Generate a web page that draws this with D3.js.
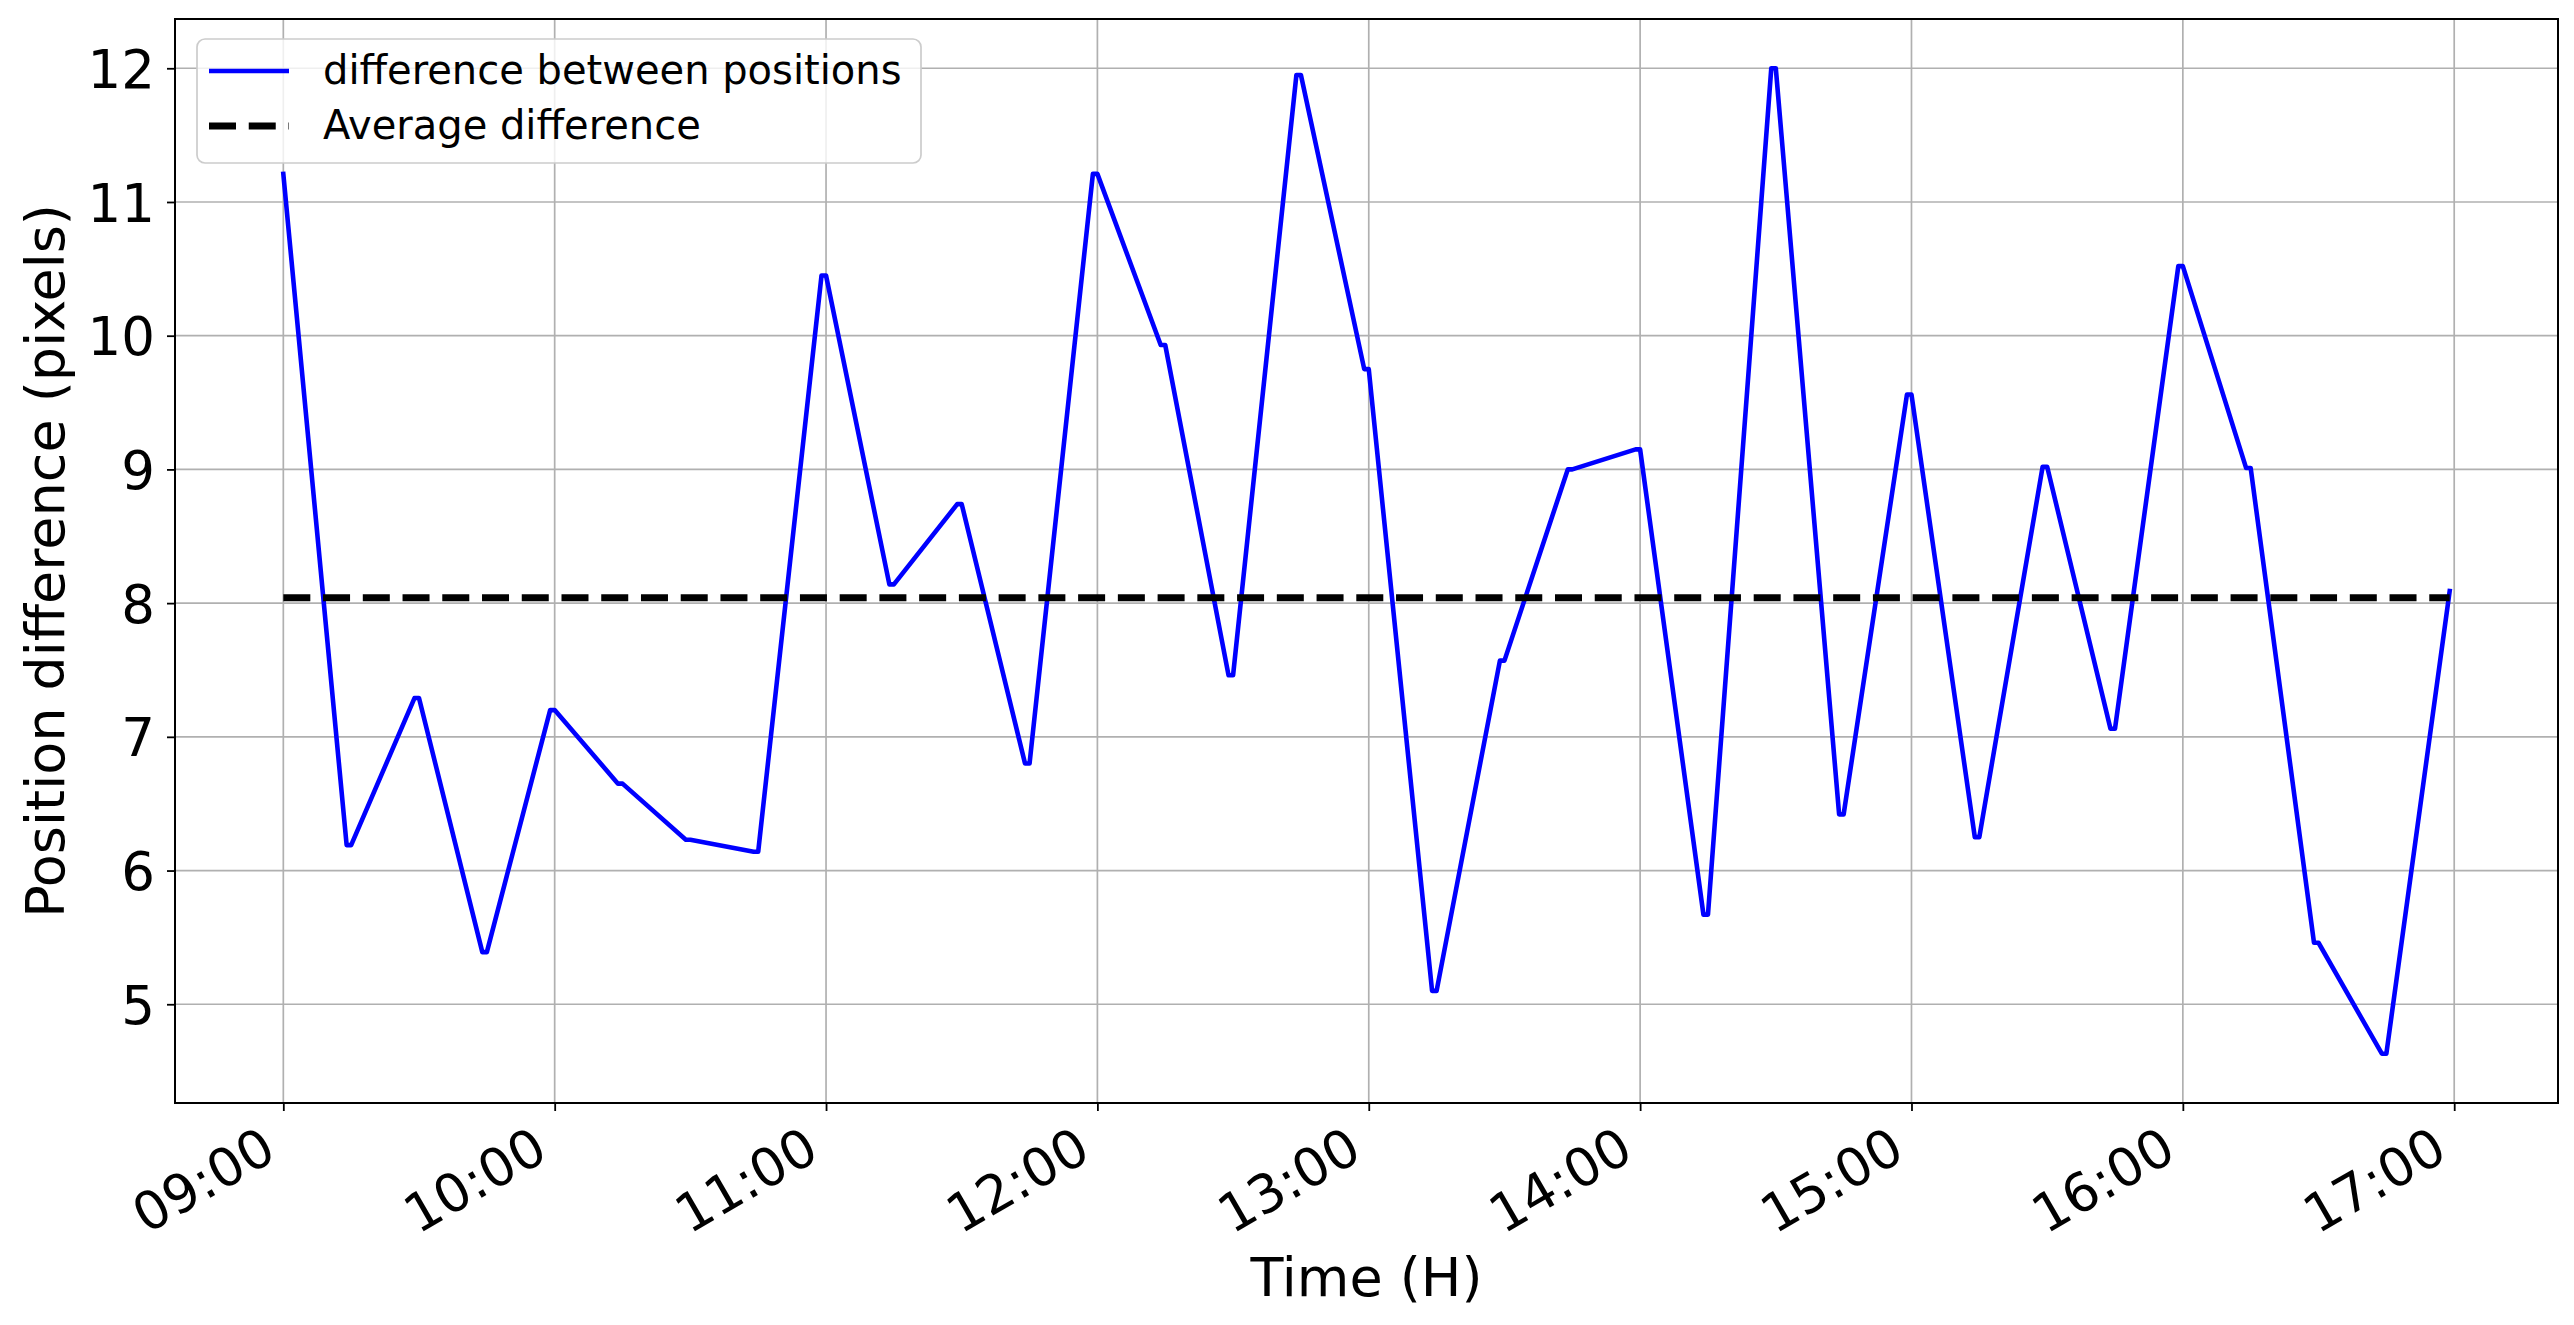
<!DOCTYPE html>
<html>
<head>
<meta charset="utf-8">
<script src="https://cdn.jsdelivr.net/npm/d3@7"></script>
<style>
  html, body { margin: 0; padding: 0; background: #ffffff; }
  svg { display: block; font-family: "DejaVu Sans", sans-serif; }
</style>
</head>
<body>
<svg id="chart" width="2574" height="1325"></svg>
<script>
// ---- data ----
const times = [
  "09:00","09:14","09:15","09:29","09:30","09:44","09:45","09:59","10:00",
  "10:14","10:15","10:29","10:30","10:44","10:45","10:59","11:00",
  "11:14","11:15","11:29","11:30","11:44","11:45","11:59","12:00",
  "12:14","12:15","12:29","12:30","12:44","12:45","12:59","13:00",
  "13:14","13:15","13:29","13:30","13:44","13:45","13:59","14:00",
  "14:14","14:15","14:29","14:30","14:44","14:45","14:59","15:00",
  "15:14","15:15","15:29","15:30","15:44","15:45","15:59","16:00",
  "16:14","16:15","16:29","16:30","16:44","16:45","16:59"
];
const differences = [
  11.21, 6.19, 6.19, 7.29, 7.29, 5.39, 5.39, 7.20, 7.20,
  6.65, 6.65, 6.23, 6.23, 6.14, 6.14, 10.45, 10.45,
  8.14, 8.14, 8.74, 8.74, 6.80, 6.80, 11.21, 11.21,
  9.93, 9.93, 7.46, 7.46, 11.95, 11.95, 9.75, 9.75,
  5.10, 5.10, 7.57, 7.57, 9.00, 9.00, 9.15, 9.15,
  5.67, 5.67, 12.00, 12.00, 6.42, 6.42, 9.56, 9.56,
  6.25, 6.25, 9.02, 9.02, 7.06, 7.06, 10.52, 10.52,
  9.01, 9.01, 5.46, 5.46, 4.63, 4.63, 8.09
];
const averageDifference = 8.04;
const xTickLabels = ["09:00","10:00","11:00","12:00","13:00","14:00","15:00","16:00","17:00"];
const yTickValues = [5, 6, 7, 8, 9, 10, 11, 12];
const legendLabels = ["difference between positions", "Average difference"];
const xLabel = "Time (H)";
const yLabel = "Position difference (pixels)";

// ---- layout ----
const W = 2574, H = 1325;
const plot = { left: 175, right: 2558, top: 19, bottom: 1103 };
const parse = d3.timeParse("%H:%M");
const fmt = d3.timeFormat("%H:%M");

const points = times.map((t, i) => ({ t: parse(t), v: differences[i] }));

// matplotlib-like autoscale with 5% margins
const tExt = d3.extent(points, d => d.t);
const tSpan = tExt[1] - tExt[0];
const x = d3.scaleTime()
  .domain([new Date(+tExt[0] - 0.05 * tSpan), new Date(+tExt[1] + 0.05 * tSpan)])
  .range([plot.left, plot.right]);
const vExt = d3.extent(points, d => d.v);
const vSpan = vExt[1] - vExt[0];
const y = d3.scaleLinear()
  .domain([vExt[0] - 0.05 * vSpan, vExt[1] + 0.05 * vSpan])
  .range([plot.bottom, plot.top]);

const svg = d3.select("#chart");
svg.append("rect").attr("width", W).attr("height", H).attr("fill", "#ffffff");

// grid
const grid = svg.append("g").attr("stroke", "#b0b0b0").attr("stroke-width", 1.7);
grid.selectAll("line.vx").data(xTickLabels.map(parse)).join("line")
  .attr("x1", d => x(d)).attr("x2", d => x(d))
  .attr("y1", plot.top).attr("y2", plot.bottom);
grid.selectAll("line.hy").data(yTickValues).join("line")
  .attr("x1", plot.left).attr("x2", plot.right)
  .attr("y1", d => y(d)).attr("y2", d => y(d));

// clip
svg.append("clipPath").attr("id", "clip").append("rect")
  .attr("x", plot.left).attr("y", plot.top)
  .attr("width", plot.right - plot.left).attr("height", plot.bottom - plot.top);

// data line
const line = d3.line().x(d => x(d.t)).y(d => y(d.v));
svg.append("path").datum(points)
  .attr("clip-path", "url(#clip)")
  .attr("d", line)
  .attr("fill", "none")
  .attr("stroke", "#0000ff")
  .attr("stroke-width", 4.6)
  .attr("stroke-linejoin", "round")
  .attr("stroke-linecap", "square");

// average line
svg.append("path").datum([{ t: tExt[0], v: averageDifference }, { t: tExt[1], v: averageDifference }])
  .attr("d", line)
  .attr("fill", "none")
  .attr("stroke", "#000000")
  .attr("stroke-width", 7)
  .attr("stroke-dasharray", "27,12.74");

// frame
svg.append("rect")
  .attr("x", plot.left).attr("y", plot.top)
  .attr("width", plot.right - plot.left).attr("height", plot.bottom - plot.top)
  .attr("fill", "none").attr("stroke", "#000000").attr("stroke-width", 2);

// x axis
const gx = svg.append("g").attr("transform", `translate(0,${plot.bottom})`)
  .call(d3.axisBottom(x).tickValues(xTickLabels.map(parse)).tickFormat(fmt).tickSize(8).tickPadding(0));
gx.select(".domain").remove();
gx.selectAll(".tick line").attr("stroke", "#000").attr("stroke-width", 1.8);
gx.selectAll(".tick text")
  .attr("fill", "#000")
  .attr("font-size", 53)
  .attr("font-family", "DejaVu Sans")
  .attr("text-anchor", "end")
  .attr("y", null).attr("dy", null)
  .attr("transform", "translate(-5,55) rotate(-30)");

// y axis
const gy = svg.append("g").attr("transform", `translate(${plot.left},0)`)
  .call(d3.axisLeft(y).tickValues(yTickValues).tickFormat(d3.format("d")).tickSize(8).tickPadding(12));
gy.select(".domain").remove();
gy.selectAll(".tick line").attr("stroke", "#000").attr("stroke-width", 1.8);
gy.selectAll(".tick text")
  .attr("fill", "#000")
  .attr("font-size", 53)
  .attr("font-family", "DejaVu Sans")
  .attr("dy", "0.36em");

// axis labels
svg.append("text")
  .attr("x", (plot.left + plot.right) / 2).attr("y", 1296)
  .attr("text-anchor", "middle").attr("font-size", 54).attr("fill", "#000")
  .text(xLabel);
svg.append("text")
  .attr("transform", `translate(64,${(plot.top + plot.bottom) / 2}) rotate(-90)`)
  .attr("text-anchor", "middle").attr("font-size", 54).attr("fill", "#000")
  .text(yLabel);

// legend
const lg = svg.append("g");
lg.append("rect")
  .attr("x", 197).attr("y", 39).attr("width", 724).attr("height", 124)
  .attr("rx", 8).attr("ry", 8)
  .attr("fill", "#ffffff").attr("fill-opacity", 0.8)
  .attr("stroke", "#cccccc").attr("stroke-width", 1.7);
const legendStyles = [
  { stroke: "#0000ff", width: 4.6, dash: null, y: 71 },
  { stroke: "#000000", width: 7, dash: "27,12.74", y: 126 }
];
legendLabels.forEach((lab, i) => {
  const s = legendStyles[i];
  lg.append("line")
    .attr("x1", 209).attr("x2", 289).attr("y1", s.y).attr("y2", s.y)
    .attr("stroke", s.stroke).attr("stroke-width", s.width)
    .attr("stroke-dasharray", s.dash);
  lg.append("text")
    .attr("x", 323).attr("y", s.y + 13)
    .attr("font-size", 40).attr("fill", "#000")
    .text(lab);
});
</script>
</body>
</html>
